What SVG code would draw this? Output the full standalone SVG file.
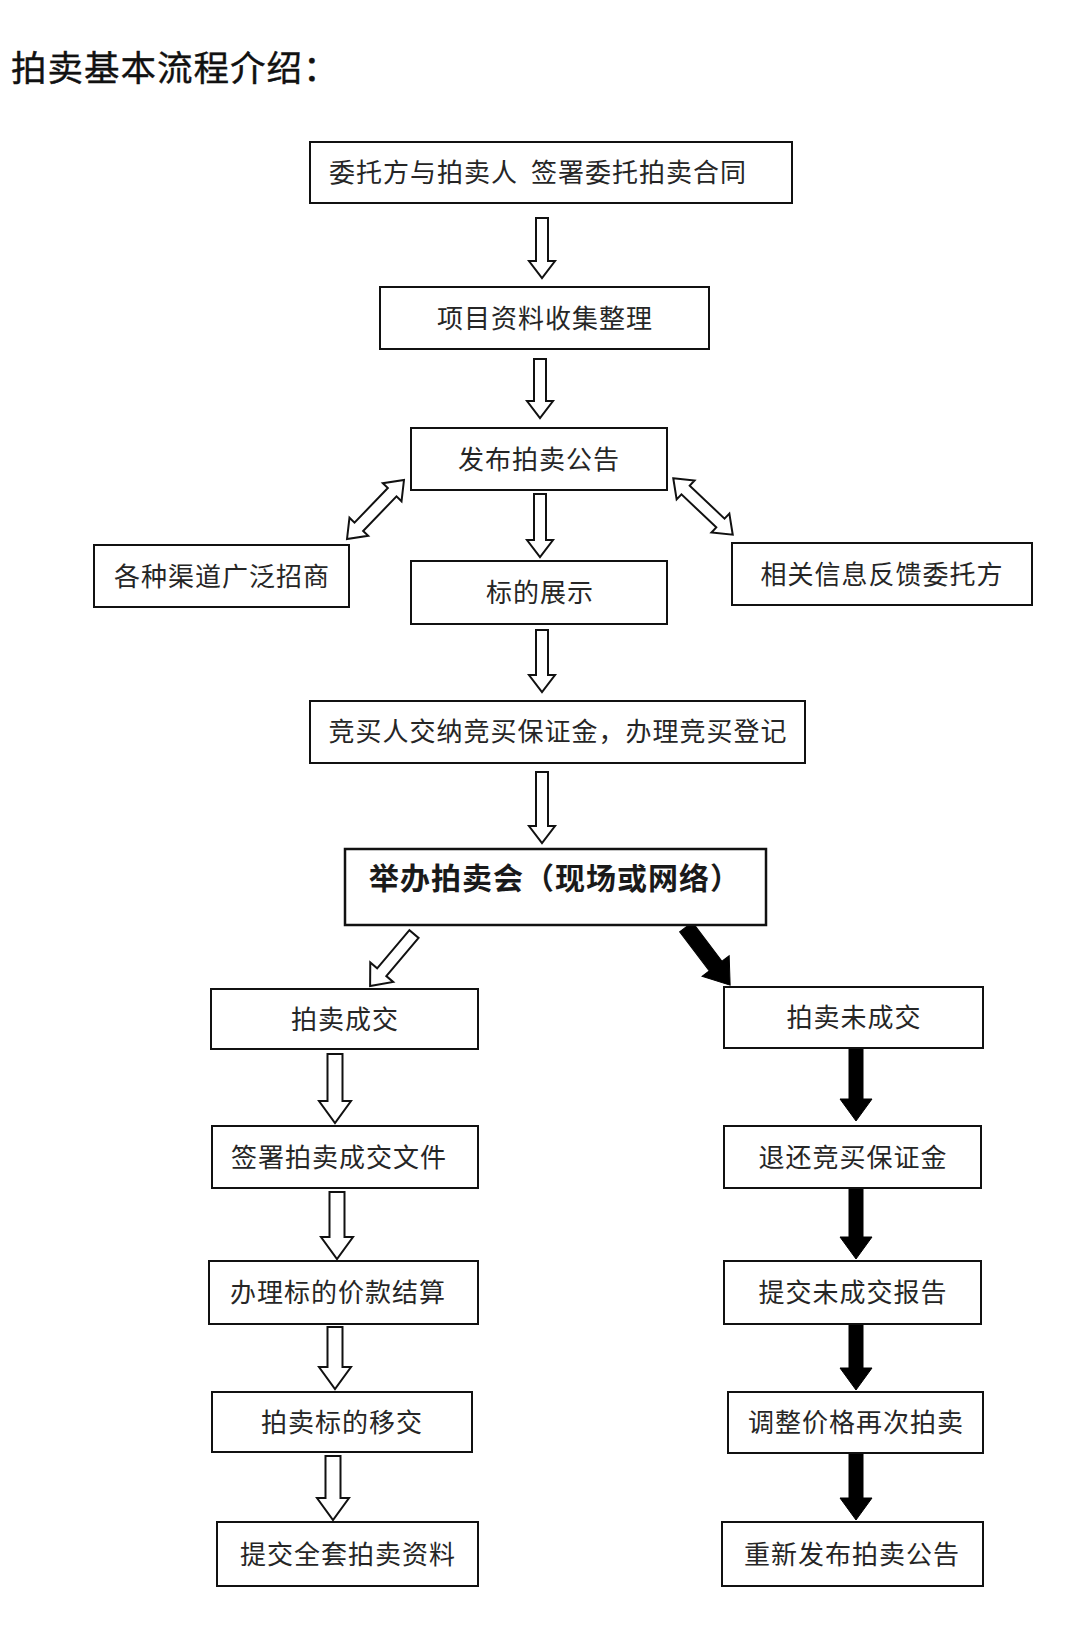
<svg xmlns="http://www.w3.org/2000/svg" width="1080" height="1639" viewBox="0 0 1080 1639">
<style>
.box{fill:#fff;stroke:#111;stroke-width:2}
.t{font-family:"Noto Sans CJK SC","Noto Sans CJK TC",sans-serif;font-size:26px;fill:#262626;letter-spacing:1px;text-anchor:middle}
.h{fill:#fff;stroke:#111;stroke-width:2;stroke-linejoin:miter}
.s{fill:#000;stroke:#000;stroke-width:1}
</style>
<defs>
<polygon id="dbl" points="-41,0 -24,-13 -24,-6 24,-6 24,-13 41,0 24,13 24,6 -24,6 -24,13"/>
</defs>
<rect width="1080" height="1639" fill="#fff"/>
<text x="11" y="81" style="font-family:'Noto Sans CJK SC',sans-serif;font-size:35.5px;fill:#111;letter-spacing:1px;stroke:#111;stroke-width:0.4">拍卖基本流程介绍：</text>

<g id="connectors">
<polygon class="h" points="536,218 548,218 548,261 555,261 542,278 529,261 536,261"/>
<polygon class="h" points="534,359 546,359 546,401 553,401 540,418 527,401 534,401"/>
<polygon class="h" points="534,494 546,494 546,540 553,540 540,557 527,540 534,540"/>
<polygon class="h" points="536,630 548,630 548,675 555,675 542,692 529,675 536,675"/>
<polygon class="h" points="536,772 548,772 548,826 555,826 542,843 529,826 536,826"/>
<use href="#dbl" class="h" transform="translate(375.5,509.5) rotate(-46)"/>
<use href="#dbl" class="h" transform="translate(703,506.5) rotate(43.5)"/>
<polygon class="h" points="0,-6 50,-6 50,-15 68,0 50,15 50,6 0,6" transform="translate(414,934) rotate(130.2)"/>
<polygon class="s" points="0,-8 49,-8 49,-17 73,0 49,17 49,8 0,8" transform="translate(686,927) rotate(52.8)"/>
<polygon class="h" points="327.5,1054 342.5,1054 342.5,1101 351,1101 335,1123 319,1101 327.5,1101"/>
<polygon class="h" points="329.5,1192 344.5,1192 344.5,1237 353,1237 337,1259 321,1237 329.5,1237"/>
<polygon class="h" points="327.5,1327 342.5,1327 342.5,1367 351,1367 335,1389 319,1367 327.5,1367"/>
<polygon class="h" points="325.5,1456 340.5,1456 340.5,1498 349,1498 333,1520 317,1498 325.5,1498"/>
<polygon class="s" points="849,1048 863,1048 863,1099 872,1099 856,1121 840,1099 849,1099"/>
<polygon class="s" points="849,1188 863,1188 863,1237 872,1237 856,1259 840,1237 849,1237"/>
<polygon class="s" points="849,1324 863,1324 863,1368 872,1368 856,1390 840,1368 849,1368"/>
<polygon class="s" points="849,1453 863,1453 863,1498 872,1498 856,1520 840,1498 849,1498"/>
</g>

<g id="n1"><rect class="box" x="310" y="142" width="482" height="61"/><text class="t" style="text-anchor:start" x="329" y="182">委托方与拍卖人<tspan x="531">签署委托拍卖合同</tspan></text></g>
<g id="n2"><rect class="box" x="380" y="287" width="329" height="62"/><text class="t" x="545" y="328">项目资料收集整理</text></g>
<g id="n3"><rect class="box" x="411" y="428" width="256" height="62"/><text class="t" x="539" y="469">发布拍卖公告</text></g>
<g id="n4"><rect class="box" x="94" y="545" width="255" height="62"/><text class="t" x="222" y="586">各种渠道广泛招商</text></g>
<g id="n5"><rect class="box" x="411" y="561" width="256" height="63"/><text class="t" x="540" y="602">标的展示</text></g>
<g id="n6"><rect class="box" x="732" y="543" width="300" height="62"/><text class="t" x="882" y="584">相关信息反馈委托方</text></g>
<g id="n7"><rect class="box" x="310" y="701" width="495" height="62"/><text class="t" x="558" y="741">竞买人交纳竞买保证金，办理竞买登记</text></g>
<g id="n8"><rect class="box" x="345" y="849" width="421" height="76" style="stroke-width:2.5"/><text class="t" style="text-anchor:start;font-size:30px;font-weight:bold;fill:#1a1a1a" x="369" y="889">举办拍卖会（现场或网络）</text></g>
<g id="n9"><rect class="box" x="211" y="989" width="267" height="60"/><text class="t" x="345" y="1029">拍卖成交</text></g>
<g id="n10"><rect class="box" x="212" y="1126" width="266" height="62"/><text class="t" x="339" y="1167">签署拍卖成交文件</text></g>
<g id="n11"><rect class="box" x="209" y="1261" width="269" height="63"/><text class="t" x="338" y="1302">办理标的价款结算</text></g>
<g id="n12"><rect class="box" x="212" y="1392" width="260" height="60"/><text class="t" x="342" y="1432">拍卖标的移交</text></g>
<g id="n13"><rect class="box" x="217" y="1522" width="261" height="64"/><text class="t" x="348" y="1564">提交全套拍卖资料</text></g>
<g id="n14"><rect class="box" x="724" y="987" width="259" height="61"/><text class="t" x="854" y="1027">拍卖未成交</text></g>
<g id="n15"><rect class="box" x="724" y="1126" width="257" height="62"/><text class="t" x="853" y="1167">退还竞买保证金</text></g>
<g id="n16"><rect class="box" x="724" y="1261" width="257" height="63"/><text class="t" x="853" y="1302">提交未成交报告</text></g>
<g id="n17"><rect class="box" x="728" y="1392" width="255" height="61"/><text class="t" x="856" y="1432">调整价格再次拍卖</text></g>
<g id="n18"><rect class="box" x="722" y="1522" width="261" height="64"/><text class="t" x="852" y="1564">重新发布拍卖公告</text></g>
</svg>
